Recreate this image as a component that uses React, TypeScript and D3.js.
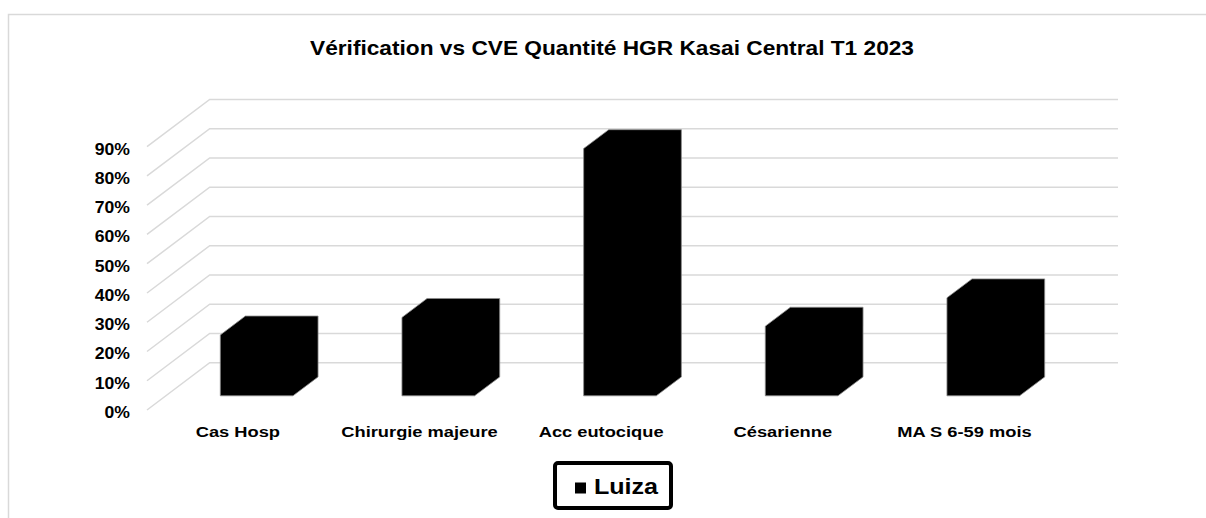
import React from 'react'
import * as d3 from 'd3'

// chart values
const categories = ['Cas Hosp', 'Chirurgie majeure', 'Acc eutocique', 'Césarienne', 'MA S 6-59 mois']
const luiza = [0.208, 0.268, 0.845, 0.238, 0.335]
const yTicks = [0, 0.1, 0.2, 0.3, 0.4, 0.5, 0.6, 0.7, 0.8, 0.9]
const seriesName = 'Luiza'
const chartTitle = 'Vérification vs CVE Quantité HGR Kasai Central T1 2023'

const W = 1206
const H = 518
const font = "'Liberation Sans', Arial, sans-serif"
const gridColor = '#d9d9d9'

// oblique 3D: front plane + depth vector
const frontLeft = 147
const frontRight = 1055.3
const DX = 62.7
const DY = -47.3

export default function App() {
  const x = d3.scaleBand().domain(categories).range([frontLeft, frontRight]).padding(0)
  const y = d3.scaleLinear().domain([0, 0.9]).range([410, 146.7])
  const fmt = d3.format('.0%')

  const p = (px: number, v: number, d: number): [number, number] => [px + DX * d, y(v) + DY * d]

  const barW = x.bandwidth() * 0.4
  const d0 = 0.3
  const d1 = 0.7

  return (
    <svg width={W} height={H} style={{position: 'absolute', left: 0, top: 0}} fontFamily={font}>
      <rect x={0} y={0} width={W} height={H} fill="#fff" />
      <rect x={8.5} y={14.5} width={1400} height={700} fill="none" stroke={gridColor} strokeWidth={1.5} />

      <text
        x={612}
        y={55}
        textAnchor="middle"
        fontSize={21}
        fontWeight="bold"
        textLength={604}
        lengthAdjust="spacingAndGlyphs"
      >
        {chartTitle}
      </text>

      {/* side wall and back wall gridlines */}
      <g stroke={gridColor} strokeWidth={1.5} fill="none">
        {yTicks.map(t => {
          const a = p(frontLeft, t, 0)
          const b = p(frontLeft, t, 1)
          const c = p(frontRight, t, 1)
          return <polyline key={t} points={[a, b, c].map(q => q.join(',')).join(' ')} />
        })}
      </g>

      {/* y labels */}
      {yTicks.map(t => (
        <text
          key={t}
          transform={`translate(130,${y(t) + 8}) scale(1.1,1)`}
          textAnchor="end"
          fontSize={16}
          fontWeight="bold"
        >
          {fmt(t)}
        </text>
      ))}

      {/* bars */}
      {categories.map((c, i) => {
        const x0 = (x(c) as number) + (x.bandwidth() - barW) / 2
        const x1 = x0 + barW
        const v = luiza[i]
        const pts = [
          p(x0, 0, d0),
          p(x0, v, d0),
          p(x0, v, d1),
          p(x1, v, d1),
          p(x1, 0, d1),
          p(x1, 0, d0)
        ]
        return (
          <polygon
            key={c}
            points={pts.map(q => q.join(',')).join(' ')}
            fill="#000"
            stroke="#8c8c8c"
            strokeWidth={0.8}
          />
        )
      })}

      {/* category labels */}
      {categories.map(c => (
        <text
          key={c}
          transform={`translate(${(x(c) as number) + x.bandwidth() / 2},436.5) scale(1.18,1)`}
          textAnchor="middle"
          fontSize={15.5}
          fontWeight="bold"
        >
          {c}
        </text>
      ))}

      {/* legend */}
      <rect x={555} y={463} width={116} height={45} rx={3} fill="#fff" stroke="#000" strokeWidth={4} />
      <rect x={575} y={482.5} width={11} height={11} fill="#000" />
      <text transform="translate(594,493.5) scale(1.14,1)" fontSize={22} fontWeight="bold">
        {seriesName}
      </text>
    </svg>
  )
}
